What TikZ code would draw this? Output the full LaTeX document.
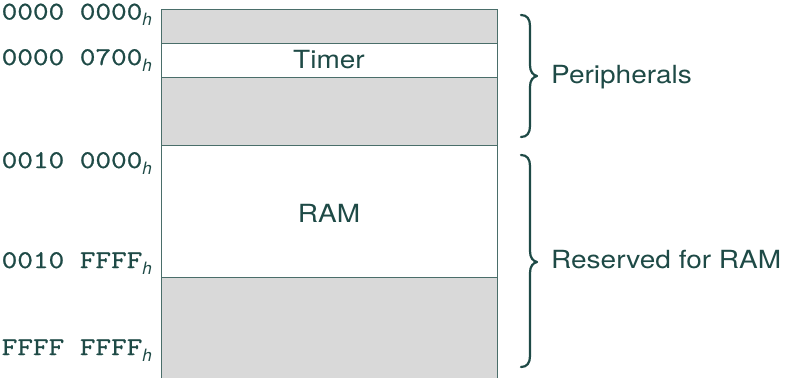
\documentclass[tikz,border=0pt]{standalone}
\usepackage{fontspec}
\usepackage{graphicx}
\newfontfamily\heros{TeX Gyre Heros}
\newfontfamily\addrfont[FakeBold=0.8]{Latin Modern Mono}
\definecolor{ink}{HTML}{1E4A46}
\definecolor{rulecol}{HTML}{4A6E6A}
\definecolor{shade}{HTML}{D9D9D9}
\tikzset{
  region/.style={draw=rulecol, line width=1pt},
  shaded/.style={fill=shade},
  addr/.style={anchor=base east, inner sep=0pt, text=ink, font=\fontsize{25.5}{30}\selectfont\addrfont},
  tag/.style={inner sep=0pt, text=ink, font=\fontsize{25}{30}\selectfont\heros},
  bracestroke/.style={draw=ink, line width=2.2pt, line cap=round, line join=round},
}
% hexadecimal address with an oblique h suffix
\newcommand{\hexaddr}[1]{\scalebox{1.19}[1]{#1}\raisebox{-6pt}{\fontsize{17}{17}\selectfont\heros\itshape h}}
\newcommand{\wide}[1]{\scalebox{1.12}[1]{#1}}
% curly brace opening to the right: stem x, top y, tip y, bottom y
\newcommand{\curlybrace}[4]{%
  \draw[bracestroke] ({#1-9},#2) .. controls ({#1-3},#2) and (#1,{#2+4}) .. (#1,{#2+11})
    -- (#1,{#3-11}) .. controls (#1,{#3-4}) and ({#1+3},{#3-1}) .. ({#1+7},#3)
    .. controls ({#1+3},{#3+1}) and (#1,{#3+4}) .. (#1,{#3+11})
    -- (#1,{#4-11}) .. controls (#1,{#4-4}) and ({#1-3},#4) .. ({#1-9},#4);}
\begin{document}
\begin{tikzpicture}[x=1pt,y=-1pt]
  \useasboundingbox (0,0) rectangle (788,378);
  % memory map column
  \coordinate (tl) at (161,9);
  \coordinate (tr) at (497,9);
  \coordinate (bl) at (161,378);
  \coordinate (br) at (497,378);
  \fill[shaded] (161,9) rectangle (497,43);
  \fill[shaded] (161,77) rectangle (497,145);
  \fill[shaded] (161,277) rectangle (497,378);
  \draw[region] (bl) -- (tl) -- (tr) -- (br);
  \draw[region] (161,43) -- (497,43);
  \draw[region] (161,77) -- (497,77);
  \draw[region] (161,145) -- (497,145);
  \draw[region] (161,277) -- (497,277);
  % region names
  \node[tag, anchor=base] (timer) at (329,68) {\wide{Timer}};
  \node[tag, anchor=base] (ram) at (329,222) {\wide{RAM}};
  % addresses
  \node[addr] (a0) at (152,19.5) {\hexaddr{0000 0000}};
  \node[addr] (a1) at (152,65) {\hexaddr{0000 0700}};
  \node[addr] (a2) at (152,168) {\hexaddr{0010 0000}};
  \node[addr] (a3) at (152,268) {\hexaddr{0010 FFFF}};
  \node[addr] (a4) at (152,355) {\hexaddr{FFFF FFFF}};
  % braces and their captions
  \curlybrace{530}{15}{76}{137}
  \curlybrace{530}{155}{262}{367}
  \node[tag, anchor=base west] (periph) at (551,83) {\wide{Peripherals}};
  \node[tag, anchor=base west] (resram) at (551,268) {\wide{Reserved for RAM}};
\end{tikzpicture}
\end{document}
